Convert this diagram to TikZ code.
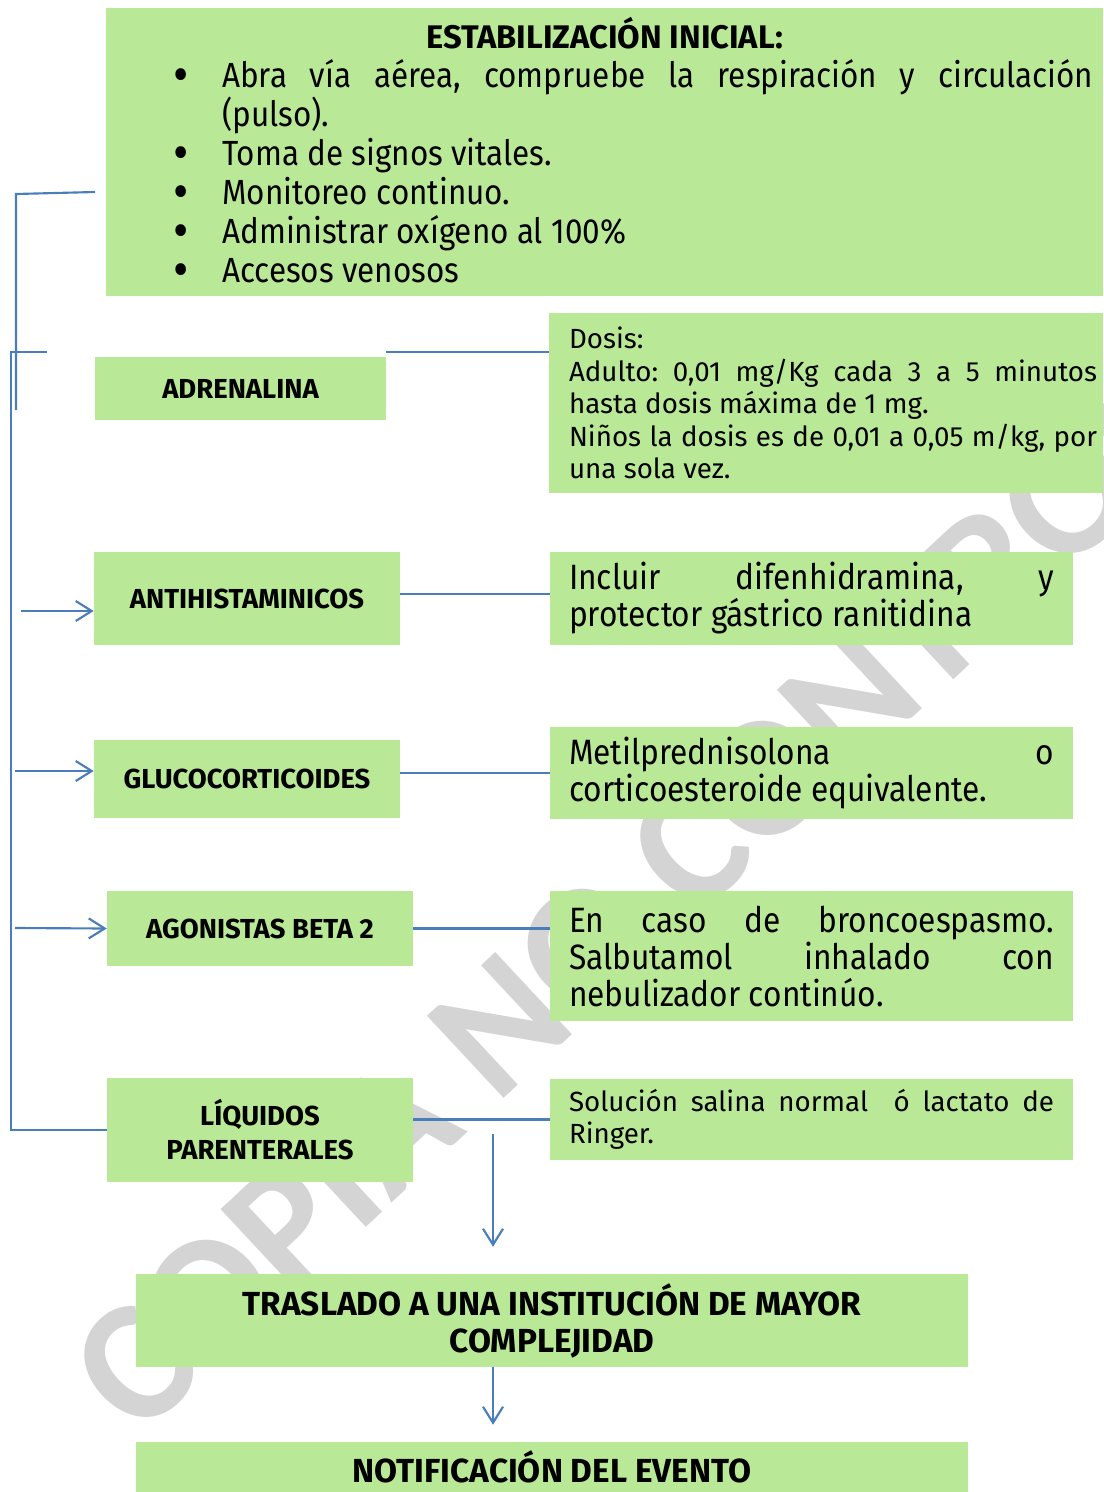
\documentclass[tikz,border=0pt]{standalone}
\usepackage{fontspec}
\setmainfont{Fira Sans}[FakeStretch=0.9]
\newfontfamily\capsfont{Fira Sans}
\newfontfamily\widefont{Fira Sans}
\newfontfamily\markfont{Carlito}
\usepackage{enumitem}
\usetikzlibrary{arrows.meta,calc}
\definecolor{boxgreen}{RGB}{185,233,151}
\definecolor{linkblue}{RGB}{74,126,187}
\definecolor{markgray}{RGB}{212,212,212}
\hyphenpenalty=10000
\tolerance=9999
\frenchspacing
\tikzset{
	box/.style={fill=boxgreen, inner sep=0pt},
	lbl/.style={box, font=\capsfont\bfseries\fontsize{20.6}{25.5}\selectfont, align=center},
	info/.style={box, align=justify, inner xsep=14.25pt, text width=363.75pt, font=\fontsize{26.4}{27.75}\selectfont},
	small/.style={font=\widefont\fontsize{20.8}{24.4}\selectfont},
	link/.style={draw=linkblue, line width=1.6pt},
}

\begin{document}
\begin{tikzpicture}[x=0.75pt, y=-0.75pt, >={Straight Barb[length=12pt,width=15pt]}]
		\useasboundingbox (0,0) rectangle (1103,1492);
		\clip (0,0) rectangle (1103,1492);
		%%%%%%% marca de agua
		\node(marca)[font=\markfont\bfseries\fontsize{130}{130}\selectfont, text=markgray, anchor=base west, rotate=43, inner sep=0pt] at (138,1440) {COPIA NO CONTROLADA};
		%%%%%%% estabilizacion
		\node(top)[box, anchor=north west, minimum width=747.75pt, minimum height=216pt, inner xsep=7.5pt, text width=732.75pt, align=justify, font=\fontsize{26.2}{29.25}\selectfont] at (106,8) {%
			{\centering\capsfont\bfseries\fontsize{24.5}{27}\selectfont ESTABILIZACIÓN INICIAL:\par}%
			\begin{itemize}[label=\raisebox{-3.5pt}{\scalebox{1.5}{\textbullet}}, leftmargin=79.5pt, labelsep=25pt, topsep=0pt, partopsep=0pt, itemsep=0pt, parsep=0pt]
				\item Abra vía aérea, compruebe la respiración y circulación\linebreak (pulso).
				\item Toma de signos vitales.
				\item Monitoreo continuo.
				\item Administrar oxígeno al 100\%
				\item Accesos venosos
			\end{itemize}\vspace*{13.5pt}};
		%%%%%%% medicamentos
		\node(adr)[lbl, minimum width=218.25pt, minimum height=47.25pt] at (240.5,388.5) {ADRENALINA};
		\node(anti)[lbl, minimum width=229.5pt, minimum height=69.75pt] at (247,598.5) {ANTIHISTAMINICOS};
		\node(gluco)[lbl, minimum width=229.5pt, minimum height=58.5pt] at (247,779) {GLUCOCORTICOIDES};
		\node(agon)[lbl, minimum width=229.5pt, minimum height=56.25pt] at (260,928.5) {AGONISTAS BETA 2};
		\node(liq)[lbl, minimum width=229.5pt, minimum height=78pt] at (260,1130) {LÍQUIDOS\\PARENTERALES};
		%%%%%%% indicaciones
		\node(dosis)[info, small, text width=406.5pt, inner xsep=4.5pt, minimum height=135pt] at (826,403) {\leftskip=10.5pt Dosis:\\Adulto: 0,01 mg/Kg cada 3 a 5 minutos\linebreak hasta dosis máxima de 1 mg.\\Niños la dosis es de 0,01 a 0,05 m/kg, por\linebreak una sola vez.\par};
		\node(incl)[info, minimum height=69.75pt] at (811.5,598.5) {Incluir difenhidramina, y\linebreak protector gástrico ranitidina};
		\node(metil)[info, minimum height=69pt] at (811.5,773) {Metilprednisolona o\linebreak corticoesteroide equivalente.};
		\node(caso)[info, minimum height=97.5pt] at (811.5,956) {En caso de broncoespasmo.\linebreak Salbutamol inhalado con\linebreak nebulizador continúo.};
		\node(sol)[info, small, minimum height=60.75pt] at (811.5,1119.5) {Solución salina normal\ \ ó lactato de\linebreak Ringer.};
		%%%%%%% final
		\node(tras)[lbl, minimum width=624pt, minimum height=69.75pt, font=\capsfont\bfseries\fontsize{25}{27.75}\selectfont] at (552,1320.5) {TRASLADO A UNA INSTITUCIÓN DE MAYOR\\COMPLEJIDAD};
		\node(notif)[lbl, minimum width=624pt, minimum height=37.5pt, font=\capsfont\bfseries\fontsize{25}{27.75}\selectfont] at (552,1467) {NOTIFICACIÓN DEL EVENTO};
		%%%%%%% conectores
		\draw[link] ($(adr.north east)+(0,-5)$) -- ($(adr.north east -| dosis.west)+(0,-5)$);
		\draw[link] (anti.east |- 0,594) -- (incl.west |- 0,594);
		\draw[link] (metil.west -| gluco.east) -- (metil.west);
		\draw[link] (agon.east) -- (agon.east -| caso.west);
		\draw[link] (sol.west -| liq.east) -- (sol.west);
		%%%%%%%
		\coordinate (b1) at (95,192);
		\draw[link] (b1) -- (16,194) -- (16,410);
		\draw[link] (47,352) -- (11,352) |- (liq.west);
		\draw[link,->] (21,611) -- (anti.west |- 0,611);
		\draw[link,->] (15,771) -- (gluco.west |- 0,771);
		\draw[link,->] (15,928) -- (agon.west);
		%%%%%%%
		\coordinate (drop) at (493,1134);
		\draw[link,->] (drop) -- ($(drop |- tras.north)+(0,-27)$);
		\draw[link,->] (tras.south -| drop) -- ($(notif.north -| drop)+(0,-17)$);
\end{tikzpicture}
\end{document}
